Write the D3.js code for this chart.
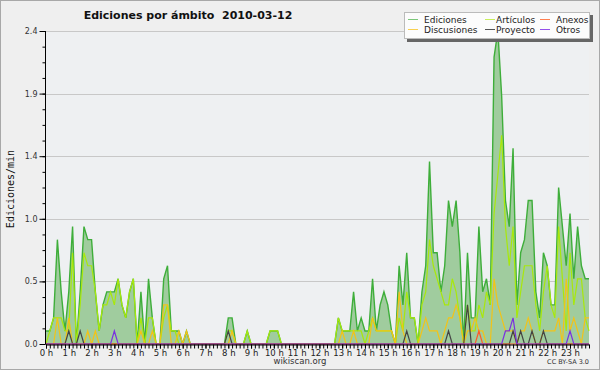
<!DOCTYPE html>
<html>
<head>
<meta charset="utf-8">
<script src="https://cdn.jsdelivr.net/npm/d3@7"></script>
<style>
body { margin: 0; background: #fff; }
svg { display: block; font-family: "DejaVu Sans", sans-serif; }
</style>
</head>
<body>
<svg id="chart" width="600" height="370"></svg>
<script>
// edits per minute, one value every 10 minutes (144 slots)
var ediciones = [
    0.1,0.1,0.2,0.8,0.4,0.1,0.4,0.9,0,0.4,0.9,0.8,
    0.8,0.4,0.1,0.3,0.4,0.4,0.4,0.5,0.3,0.2,0.4,0.5,
    0,0.4,0,0.5,0.2,0,0,0.5,0.6,0.1,0.1,0.1,
    0,0.1,0,0,0,0,0,0,0,0,0,0,
    0.2,0.2,0,0,0,0.1,0,0,0,0,0,0.1,
    0.1,0.1,0,0,0,0,0,0,0,0,0,0,
    0,0,0,0,0,0.2,0.1,0.1,0.1,0.4,0.1,0.2,
    0.1,0.1,0.5,0.1,0.3,0.4,0.3,0.1,0,0.6,0.3,0.7,
    0.2,0.2,0,0.4,0.6,1.4,0.7,0.7,0.4,0.6,1.1,0.9,
    1.1,0.7,0,0.7,0.2,0.2,0.9,0.4,0.5,0.3,2.2,2.4,
    1.9,1.1,0.9,1.5,0.3,0.7,0.8,1.1,1.1,0.4,0.2,0.7,
    0.6,0.3,0.3,1.2,0.9,0.6,1.0,0.5,0.9,0.6,0.5,0.5
];
var articulos = [
    0,0.1,0.2,0.2,0.2,0.1,0.1,0.7,0,0.3,0.7,0.6,
    0.6,0.4,0.1,0.3,0.3,0.4,0.3,0.5,0.3,0.2,0.4,0.5,
    0,0.2,0,0.2,0.2,0,0,0.2,0.3,0.1,0.1,0,
    0,0,0,0,0,0,0,0,0,0,0,0,
    0.1,0.1,0,0,0,0.1,0,0,0,0,0,0.1,
    0.1,0.1,0,0,0,0,0,0,0,0,0,0,
    0,0,0,0,0,0.2,0.1,0.1,0.1,0.1,0.1,0.1,
    0,0.1,0.2,0.1,0.1,0.1,0.1,0.1,0,0.2,0.1,0.4,
    0.2,0.2,0,0.3,0.4,0.8,0.6,0.5,0.4,0.3,0.3,0.5,
    0.4,0.2,0,0.3,0.1,0.1,0.3,0.2,0.4,0.3,1.0,1.3,
    1.6,0.9,0.6,0.9,0.2,0.4,0.6,0.6,0.6,0.3,0.1,0.4,
    0.6,0.3,0.2,0.9,0.5,0.1,0.7,0.3,0.5,0.5,0.2,0.1
];
var discusiones = [
    0,0,0,0.2,0,0,0.2,0,0,0,0,0.1,
    0,0.1,0,0,0,0,0,0,0,0,0,0,
    0,0.1,0,0,0.1,0,0,0.3,0.3,0,0,0.1,
    0,0.1,0,0,0,0,0,0,0,0,0,0,
    0,0.1,0,0,0,0,0,0,0,0,0,0,
    0,0,0,0,0,0,0,0,0,0,0,0,
    0,0,0,0,0,0,0.1,0,0,0.1,0,0,
    0,0,0.2,0.1,0.1,0.1,0.1,0.1,0,0.4,0.1,0,
    0,0,0,0.1,0.2,0.1,0.1,0.1,0,0.1,0.2,0.2,
    0.3,0.2,0,0.1,0.1,0.2,0.1,0.1,0,0,0.5,0.3,
    0.2,0.1,0.1,0.1,0,0.1,0.1,0.2,0.1,0,0,0.1,
    0.1,0.1,0.1,0.2,0,0.5,0.1,0.2,0.1,0,0.2,0.2
];
var proyecto = [
    0,0,0,0,0,0,0.1,0,0,0.1,0,0,
    0,0,0,0,0,0,0,0,0,0,0,0,
    0,0,0,0,0,0,0,0,0,0,0,0,
    0,0,0,0,0,0,0,0,0,0,0,0,
    0.1,0,0,0,0,0,0,0,0,0,0,0,
    0,0,0,0,0,0,0,0,0,0,0,0,
    0,0,0,0,0,0,0,0,0,0,0,0,
    0,0,0,0,0,0,0,0,0,0,0,0.1,
    0,0,0,0,0,0,0,0,0,0,0.1,0,
    0,0,0,0.3,0,0,0,0,0,0,0,0,
    0,0,0,0.1,0,0.1,0,0,0.1,0,0,0.1,
    0,0,0,0,0,0,0,0,0,0,0,0
];
var anexos = [
    0,0,0,0,0,0,0,0,0,0,0,0,
    0,0,0,0,0,0,0,0,0,0,0,0,
    0,0,0,0,0,0,0,0,0,0,0,0,
    0,0,0,0,0,0,0,0,0,0,0,0,
    0,0,0,0,0,0,0,0,0,0,0,0,
    0,0,0,0,0,0,0,0,0,0,0,0,
    0,0,0,0,0,0,0,0,0,0,0,0,
    0,0,0,0,0,0,0,0,0,0,0,0,
    0,0,0,0,0,0,0,0,0,0,0,0,
    0,0,0,0,0,0,0.1,0,0,0,0,0,
    0,0,0,0,0,0,0,0,0,0,0,0,
    0,0,0,0,0,0,0,0,0,0,0,0
];
var otros = [
    0,0,0,0,0,0,0,0,0,0,0,0,
    0,0,0,0,0,0,0.1,0,0,0,0,0,
    0,0,0,0,0,0,0,0,0,0,0,0,
    0,0,0,0,0,0,0,0,0,0,0,0,
    0,0,0,0,0,0,0,0,0,0,0,0,
    0,0,0,0,0,0,0,0,0,0,0,0,
    0,0,0,0,0,0,0,0,0,0,0,0,
    0,0,0,0,0,0,0,0,0,0,0,0,
    0,0,0,0,0,0,0,0,0,0,0,0,
    0,0,0,0,0,0,0,0,0,0,0,0,
    0,0.1,0.1,0.2,0,0,0,0,0,0,0,0,
    0,0,0,0,0,0,0.1,0,0,0,0,0
];
var hourLabels = d3.range(24).map(h => h + " h");
var yTicks = [0, 0.48, 0.96, 1.44, 1.92, 2.4];

var series = [
    { name: "Artículos", values: articulos, color: "#a8e80c" },
    { name: "Discusiones", values: discusiones, color: "#f2c318" },
    { name: "Proyecto", values: proyecto, color: "#444444" },
    { name: "Anexos", values: anexos, color: "#ff5a28" },
    { name: "Otros", values: otros, color: "#7a30e0" }
];

var svg = d3.select("#chart");
var plotLeft = 46, plotRight = 589, plotTop = 31, plotBottom = 344;

svg.append("rect").attr("x", 0.5).attr("y", 0.5).attr("width", 599).attr("height", 369)
    .attr("fill", "#efefef").attr("stroke", "#a8a8a8");
svg.append("rect").attr("x", plotLeft).attr("y", plotTop)
    .attr("width", plotRight - plotLeft).attr("height", plotBottom - plotTop)
    .attr("fill", "#eef0f2");

var x = d3.scaleLinear().domain([0, ediciones.length - 1]).range([plotLeft, plotRight]);
var y = d3.scaleLinear().domain([0, 2.4]).range([plotBottom, plotTop]);

// grid
svg.append("g").selectAll("line").data(yTicks.slice(1)).enter().append("line")
    .attr("x1", plotLeft).attr("x2", plotRight)
    .attr("y1", d => Math.round(y(d)) + 0.5).attr("y2", d => Math.round(y(d)) + 0.5)
    .attr("stroke", "#c8c8c8");

// Ediciones area + line
var area = d3.area().x((d, i) => x(i)).y0(plotBottom).y1(d => y(d));
var line = d3.line().x((d, i) => x(i)).y(d => y(d));
svg.append("path").attr("d", area(ediciones)).attr("fill", "#a0cc9e");
svg.append("path").attr("d", line(ediciones)).attr("fill", "none")
    .attr("stroke", "#3eae3a").attr("stroke-width", 1.4);

series.forEach(s => {
    svg.append("path").attr("d", line(s.values)).attr("fill", "none")
        .attr("stroke", s.color).attr("stroke-width", 1.2);
});

// y axis
var yAxis = d3.axisLeft(y).tickValues(yTicks).tickFormat(d3.format(".1f")).tickSize(6).tickPadding(2);
var yMinor = d3.axisLeft(y).tickValues(d3.range(0, 2.41, 0.12)).tickFormat("").tickSize(3);
var gy = svg.append("g").attr("transform", "translate(" + (plotLeft - 0.5) + ",0)").call(yMinor);
gy.select(".domain").remove();
var gy2 = svg.append("g").attr("transform", "translate(" + (plotLeft - 0.5) + ",0)").call(yAxis);
gy2.selectAll("text").attr("font-size", 8).attr("font-family", "DejaVu Sans").attr("fill", "#333");
gy2.select(".domain").attr("d", "M0," + plotTop + "V" + plotBottom);

// x axis
var xMinor = d3.axisBottom(x).tickValues(d3.range(ediciones.length)).tickFormat("").tickSize(4).tickSizeOuter(0);
var gx = svg.append("g").attr("transform", "translate(0," + (plotBottom + 0.5) + ")").call(xMinor);
gx.select(".domain").attr("stroke-width", 1.2);
var xAxis = d3.axisBottom(x).tickValues(d3.range(0, 144, 6)).tickFormat((d, i) => hourLabels[i]).tickSize(4).tickPadding(1);
var gx2 = svg.append("g").attr("transform", "translate(0," + (plotBottom + 0.5) + ")").call(xAxis);
gx2.select(".domain").remove();
gx2.selectAll("text").attr("font-size", 8.5).attr("font-family", "DejaVu Sans").attr("fill", "#222");

// titles
svg.append("text").attr("x", 188).attr("y", 19).attr("text-anchor", "middle")
    .attr("font-size", 11).attr("font-weight", "bold").attr("fill", "#111")
    .style("white-space", "pre")
    .text("Ediciones por ámbito  2010-03-12");
svg.append("text").attr("transform", "translate(14,189) rotate(-90)").attr("text-anchor", "middle")
    .attr("font-family", "DejaVu Sans Mono").attr("font-size", 10).attr("fill", "#111")
    .text("Ediciones/min");
svg.append("text").attr("x", 300).attr("y", 364).attr("text-anchor", "middle")
    .attr("font-size", 8.5).attr("fill", "#333").text("wikiscan.org");
svg.append("text").attr("x", 589).attr("y", 364).attr("text-anchor", "end")
    .attr("font-size", 6.5).attr("fill", "#333").text("CC BY-SA 3.0");

// legend
var legendItems = [
    { name: "Ediciones", color: "#7cc77a", col: 0, row: 0 },
    { name: "Artículos", color: "#c8ee5c", col: 1, row: 0 },
    { name: "Anexos", color: "#ff7f50", col: 2, row: 0 },
    { name: "Discusiones", color: "#f8d050", col: 0, row: 1 },
    { name: "Proyecto", color: "#555555", col: 1, row: 1 },
    { name: "Otros", color: "#9450ea", col: 2, row: 1 }
];
var colSwatch = [408, 485, 540], colText = [424, 496, 556];
var lg = svg.append("g");
lg.append("rect").attr("x", 407).attr("y", 15).attr("width", 186).attr("height", 27).attr("fill", "#666");
lg.append("rect").attr("x", 404.5).attr("y", 12.5).attr("width", 185).attr("height", 26)
    .attr("fill", "#fcfcfc").attr("stroke", "#bbb");
legendItems.forEach(d => {
    var yy = 19.5 + d.row * 10;
    lg.append("line").attr("x1", colSwatch[d.col]).attr("x2", colSwatch[d.col] + 10)
        .attr("y1", yy).attr("y2", yy).attr("stroke", d.color).attr("stroke-width", 1);
    lg.append("text").attr("x", colText[d.col]).attr("y", yy + 3).attr("font-size", 9)
        .attr("fill", "#222").text(d.name);
});
</script>
</body>
</html>
